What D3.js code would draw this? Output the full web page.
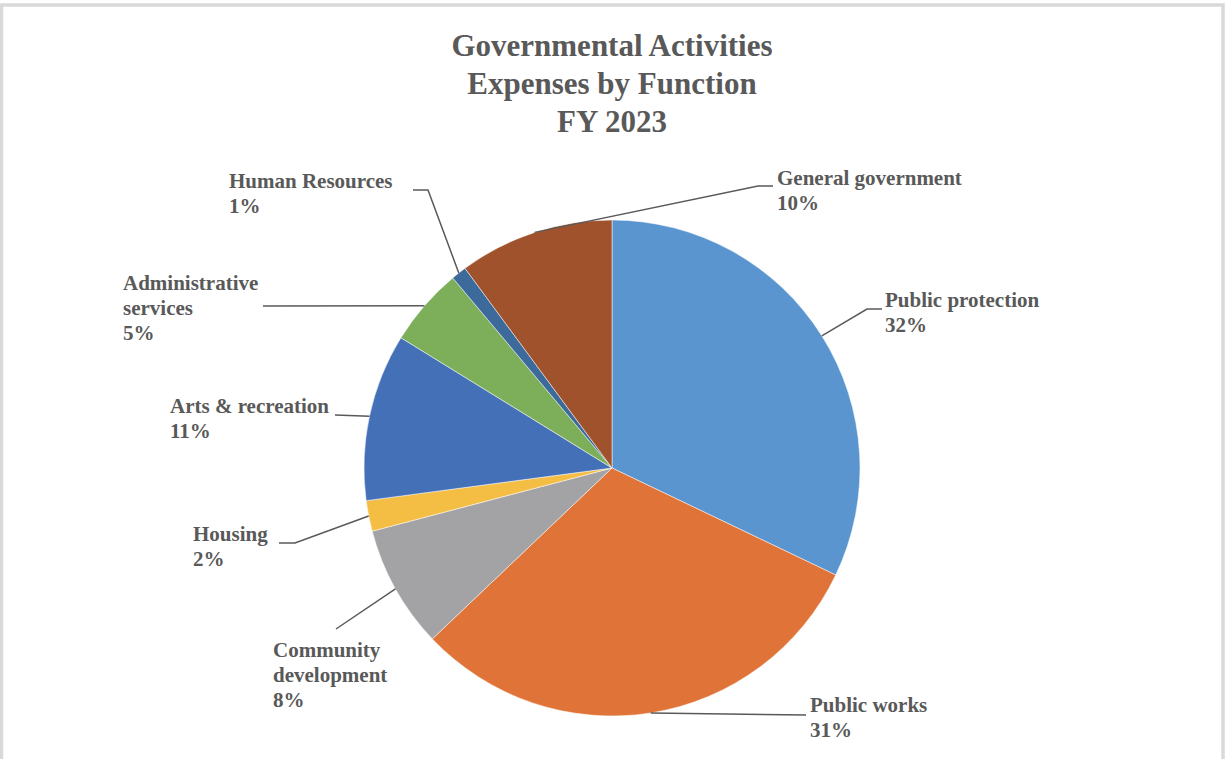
<!DOCTYPE html>
<html>
<head>
<meta charset="utf-8">
<script src="https://cdn.jsdelivr.net/npm/d3@7"></script>
<style>
  html, body { margin: 0; padding: 0; background: #fff; }
  svg { display: block; }
  text { font-family: "Liberation Serif", "DejaVu Serif", serif; font-weight: bold; fill: #595959; }
</style>
</head>
<body>
<svg id="chart" width="1225" height="759"></svg>
<script>
// ---- data ----
const categories = ["Public protection", "Public works", "Community development", "Housing",
                    "Arts & recreation", "Administrative services", "Human Resources", "General government"];
const values = [32.1, 30.8, 8.0, 2.0, 10.9, 5.1, 1.0, 10.1];
const colors = ["#5B95CF", "#E07337", "#A3A3A6", "#F4BE45", "#4470B8", "#7DAF5A", "#3C6A9A", "#A0522D"];
const titleLines = ["Governmental Activities", "Expenses by Function", "FY 2023"];
// wrapped label text as shown in the chart
const labelLines = [["Public protection"], ["Public works"], ["Community", "development"], ["Housing"],
                    ["Arts & recreation"], ["Administrative", "services"], ["Human Resources"], ["General government"]];

// ---- layout ----
const W = 1225, H = 759;
const cx = 612, cy = 468, R = 248;
// label placement: text x, first baseline y, leader elbow points (after the pie anchor)
const labelLayout = [
  { x: 885, y: 307, pts: [[867, 309], [882, 309]] },
  { x: 810, y: 712, pts: [[806, 715]] },
  { x: 273, y: 657, pts: [[336, 629]] },
  { x: 193, y: 541, pts: [[295, 543], [279, 543]] },
  { x: 170, y: 413, pts: [[335, 415]] },
  { x: 123, y: 290, pts: [[263, 306]] },
  { x: 229, y: 188, pts: [[428, 190], [413, 190]] },
  { x: 777, y: 185, pts: [[758, 186], [773, 186]] }
];

const svg = d3.select("#chart");

// frame
svg.append("rect")
  .attr("x", 1.5).attr("y", 5).attr("width", W - 3.5).attr("height", H + 50)
  .attr("fill", "none").attr("stroke", "#D9D9D9").attr("stroke-width", 3.5);

// title
svg.append("text")
  .attr("x", cx).attr("text-anchor", "middle")
  .style("font-size", "31px")
  .selectAll("tspan").data(titleLines).join("tspan")
  .attr("x", cx).attr("y", (d, i) => 56 + i * 38)
  .text(d => d);

const data = categories.map((c, i) => ({ name: c, value: values[i], color: colors[i], lines: labelLines[i], lay: labelLayout[i] }));
const total = d3.sum(values);

const pie = d3.pie().value(d => d.value).sort(null);
const arcs = pie(data);
const arc = d3.arc().innerRadius(0).outerRadius(R);

const g = svg.append("g").attr("transform", `translate(${cx},${cy})`);
g.selectAll("path.slice").data(arcs).join("path")
  .attr("class", "slice")
  .attr("d", arc)
  .attr("fill", d => d.data.color)
  .attr("stroke", "#fff").attr("stroke-width", 0.5);

// leader lines
const line = d3.line();
svg.selectAll("path.leader").data(arcs).join("path")
  .attr("class", "leader")
  .attr("d", d => {
    const a = (d.startAngle + d.endAngle) / 2;
    const p0 = [cx + R * Math.sin(a), cy - R * Math.cos(a)];
    return line([p0, ...d.data.lay.pts]);
  })
  .attr("fill", "none").attr("stroke", "#595959").attr("stroke-width", 1.5);

// labels
const fmt = v => Math.round(v / total * 100) + "%";
const lbl = svg.selectAll("text.lbl").data(arcs).join("text")
  .attr("class", "lbl")
  .style("font-size", "21px");
lbl.each(function(d) {
  const t = d3.select(this);
  const lines = d.data.lines.concat([fmt(d.data.value)]);
  t.selectAll("tspan").data(lines).join("tspan")
    .attr("x", d.data.lay.x)
    .attr("y", (s, i) => d.data.lay.y + i * 25)
    .text(s => s);
});
</script>
</body>
</html>
